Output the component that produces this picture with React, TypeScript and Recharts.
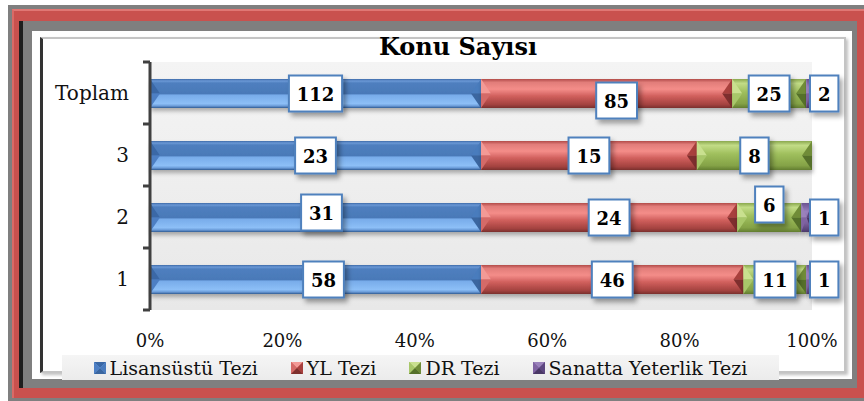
import React from 'react';
import { BarChart, Bar, XAxis, YAxis, CartesianGrid, LabelList } from 'recharts';

// Konu Sayısı - 100% stacked horizontal bars
const categories = ['Toplam', '3', '2', '1'];
const lisansustu = [112, 23, 31, 58];
const ylTezi = [85, 15, 24, 46];
const drTezi = [25, 8, 6, 11];
const sanatta = [2, 0, 1, 1];
const xTicks = [0, 0.2, 0.4, 0.6, 0.8, 1];

const data = categories.map((name, i) => ({
  name,
  lis: lisansustu[i],
  yl: ylTezi[i],
  dr: drTezi[i],
  san: sanatta[i],
}));

const FONT = '"DejaVu Serif", serif';

const palettes: any = {
  lis: {
    stops: [[0, '#3c6aa8'], [0.07, '#6b98d6'], [0.14, '#4f7fbf'], [0.5, '#4a79b8'], [0.56, '#78acea'], [0.85, '#8dbff7'], [0.93, '#6a9bd8'], [1, '#2f5a92']],
    lt: '#3a68a6', lb: '#4d7fc4', rt: '#4a7bbd', rb: '#3a66a0',
  },
  yl: {
    stops: [[0, '#b24c49'], [0.12, '#e27d7a'], [0.35, '#f48d89'], [0.6, '#cf5e5b'], [0.88, '#a3423f'], [1, '#7a2f2d']],
    lt: '#f39a96', lb: '#d46a67', rt: '#a8403d', rb: '#7e2f2d',
  },
  dr: {
    stops: [[0, '#8aa84e'], [0.15, '#c2dc86'], [0.45, '#9fbf5d'], [0.85, '#84a246'], [1, '#627d30']],
    lt: '#c9e08f', lb: '#a8c76a', rt: '#6f8c38', rb: '#55702a',
  },
  san: {
    stops: [[0, '#6b5390'], [0.3, '#9a80bf'], [0.7, '#7a5f9c'], [1, '#4d3a6b']],
    lt: '#9a82bb', lb: '#8064a2', rt: '#5d4780', rb: '#4a3866',
  },
};

const series = [
  { key: 'lis', name: 'Lisansüstü Tezi' },
  { key: 'yl', name: 'YL Tezi' },
  { key: 'dr', name: 'DR Tezi' },
  { key: 'san', name: 'Sanatta Yeterlik Tezi' },
];

// small hand nudges for labels that Excel moved off-centre
const nudges: Record<string, [number, number]> = {
  'yl-0': [10, 7],
  'dr-2': [0, -13],
  'lis-2': [6, -5],
  'lis-3': [8, 0],
};

const makeShape = (key: string) => (props: any) => {
  const { x, y, width, height } = props;
  if (!width || width <= 0) return null;
  const p = palettes[key];
  const c = Math.min(10, width / 2);
  const mid = y + height / 2;
  return (
    <g filter="url(#barShadow)">
      <rect x={x} y={y} width={width} height={height} fill={`url(#grad-${key})`} />
      <polygon points={`${x},${y} ${x + c},${mid} ${x},${mid}`} fill={p.lt} />
      <polygon points={`${x},${mid} ${x + c},${mid} ${x},${y + height}`} fill={p.lb} />
      <polygon points={`${x + width},${y} ${x + width - c},${mid} ${x + width},${mid}`} fill={p.rt} />
      <polygon points={`${x + width},${mid} ${x + width - c},${mid} ${x + width},${y + height}`} fill={p.rb} />
    </g>
  );
};

const makeLabel = (key: string, outside = false) => (props: any) => {
  const { x, y, width, height, value, index } = props;
  if (!value) return null;
  const text = String(value);
  const bw = text.length * 12.4 + 16;
  const bh = 36;
  const [dx, dy] = nudges[`${key}-${index}`] || [0, 0];
  const cx = outside ? x + width + bw / 2 - 2 : x + width / 2 + dx;
  const cy = y + height / 2 + dy;
  return (
    <g>
      <rect x={cx - bw / 2} y={cy - bh / 2} width={bw} height={bh} fill="#fff" stroke="#4f81bd" strokeWidth={2} filter="url(#labelShadow)" />
      <text x={cx} y={cy + 1} textAnchor="middle" dominantBaseline="central" fontFamily={FONT} fontWeight="bold" fontSize={18} fill="#000">
        {text}
      </text>
    </g>
  );
};

const YTick = (props: any) => {
  const { x, y, payload, index } = props;
  const axisX = x + 21;
  const half = 31;
  return (
    <g>
      <text x={x} y={y} textAnchor="end" dominantBaseline="central" fontFamily={FONT} fontSize={20} fill="#111">
        {payload.value}
      </text>
      <line x1={axisX - 7} x2={axisX} y1={y - half} y2={y - half} stroke="#404040" strokeWidth={3} />
      {index === categories.length - 1 && (
        <line x1={axisX - 7} x2={axisX} y1={y + half} y2={y + half} stroke="#404040" strokeWidth={3} />
      )}
    </g>
  );
};

const Marker = ({ k }: { k: string }) => {
  const p = palettes[k];
  return (
    <svg width={12} height={12} style={{ display: 'block' }}>
      <rect width={12} height={12} fill={p.stops[Math.floor(p.stops.length / 2)][1]} />
      <polygon points="0,0 12,0 6,6" fill={p.lt} />
      <polygon points="0,0 6,6 0,12" fill={p.lb} />
      <polygon points="12,0 12,12 6,6" fill={p.rt} />
      <polygon points="0,12 12,12 6,6" fill={p.rb} />
    </svg>
  );
};

export default function App() {
  return (
    <div style={{ position: 'absolute', left: 0, top: 0, width: 864, height: 401, overflow: 'hidden', background: '#fff' }}>
      {/* frame */}
      <div style={{ position: 'absolute', left: 8, top: 5, width: 856, height: 396, background: '#7f7f7f' }} />
      <div style={{ position: 'absolute', left: 12, top: 9, width: 852, height: 389, background: '#c9514e', boxSizing: 'border-box', borderTop: '2px solid #e07774', borderLeft: '2px solid #d96a66' }} />
      <div style={{ position: 'absolute', left: 19, top: 21, width: 838, height: 367, background: '#7f7f7f', boxSizing: 'border-box', borderLeft: '4px solid #1e1e1e' }} />
      <div style={{ position: 'absolute', left: 32, top: 31, width: 820, height: 348, background: '#fff' }} />
      <div style={{ position: 'absolute', left: 40, top: 37, width: 806, height: 336, boxSizing: 'border-box', border: '2px solid #c4c4c4', borderLeft: '3px solid #333', boxShadow: '2px 2px 3px rgba(0,0,0,0.25)', background: '#fff' }} />

      <div style={{ position: 'absolute', left: 0, top: 32, width: 916, textAlign: 'center', fontFamily: FONT, fontWeight: 'bold', fontSize: 24, color: '#000' }}>
        Konu Sayısı
      </div>

      <div style={{ position: 'absolute', left: 0, top: 0 }}>
        <BarChart
          width={864}
          height={401}
          data={data}
          layout="vertical"
          stackOffset="expand"
          barSize={29}
          margin={{ top: 62, right: 52, bottom: 51, left: 40 }}
        >
          <defs>
            {series.map((s) => (
              <linearGradient key={s.key} id={`grad-${s.key}`} x1="0" y1="0" x2="0" y2="1">
                {palettes[s.key].stops.map((st: any, i: number) => (
                  <stop key={i} offset={st[0]} stopColor={st[1]} />
                ))}
              </linearGradient>
            ))}
            <linearGradient id="plotBg" x1="0" y1="0" x2="0" y2="1">
              <stop offset={0} stopColor="#f4f4f4" />
              <stop offset={1} stopColor="#e8e8e8" />
            </linearGradient>
            <filter id="barShadow" x="-5%" y="-30%" width="110%" height="170%">
              <feDropShadow dx={1} dy={3} stdDeviation={2} floodColor="#000" floodOpacity={0.3} />
            </filter>
            <filter id="labelShadow" x="-30%" y="-30%" width="170%" height="170%">
              <feDropShadow dx={3} dy={4} stdDeviation={2.5} floodColor="#000" floodOpacity={0.35} />
            </filter>
          </defs>
          <CartesianGrid horizontal={false} vertical={false} fill="url(#plotBg)" />
          <XAxis
            type="number"
            domain={[0, 1]}
            ticks={xTicks}
            tickFormatter={(v) => `${Math.round(v * 100)}%`}
            axisLine={false}
            tickLine={false}
            tickSize={0}
            tickMargin={24}
            height={40}
            tick={{ fontFamily: FONT, fontSize: 18, fill: '#111' }}
          />
          <YAxis
            type="category"
            dataKey="name"
            width={110}
            axisLine={{ stroke: '#404040', strokeWidth: 3 }}
            tickLine={false}
            tickSize={0}
            tickMargin={21}
            tick={<YTick />}
          />
          {series.map((s) => (
            <Bar key={s.key} dataKey={s.key} name={s.name} stackId="a" isAnimationActive={false} shape={makeShape(s.key)}>
              <LabelList dataKey={s.key} content={makeLabel(s.key, s.key === 'san')} />
            </Bar>
          ))}
        </BarChart>
      </div>

      {/* legend */}
      <div
        style={{
          position: 'absolute', left: 62, top: 355, width: 717, height: 25,
          background: 'linear-gradient(#f5f5f5, #ebebeb)',
          display: 'flex', alignItems: 'center', justifyContent: 'center', gap: 33,
          fontFamily: FONT, fontSize: 19, color: '#111', whiteSpace: 'nowrap',
        }}
      >
        {series.map((s) => (
          <div key={s.key} style={{ display: 'flex', alignItems: 'center' }}>
            <Marker k={s.key} />
            <span style={{ marginLeft: 4 }}>{s.name}</span>
          </div>
        ))}
      </div>
    </div>
  );
}
